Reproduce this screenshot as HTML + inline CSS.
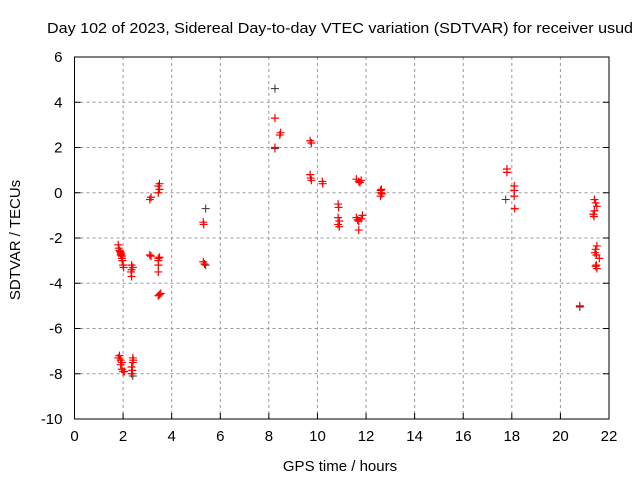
<!DOCTYPE html>
<html><head><meta charset="utf-8"><style>
body{margin:0;background:#fff;}
svg text{font-family:"Liberation Sans",sans-serif;font-size:15px;fill:#000;}
</style></head><body>
<svg id="chart" width="640" height="480"></svg>
<script>
const xTicks=[0,2,4,6,8,10,12,14,16,18,20,22];
const yTicks=[-10,-8,-6,-4,-2,0,2,4,6];
const redX=[1.8,1.82,1.85,1.88,1.9,1.92,1.95,1.97,2.0,2.02,1.95,1.9,2.35,2.35,2.33,2.35,2.4,3.1,3.15,3.1,3.15,3.45,3.45,3.45,3.45,3.5,3.45,3.5,3.45,3.5,3.45,3.55,1.8,1.85,1.9,1.95,1.9,2.0,1.95,2.05,2.35,2.4,2.38,2.35,2.42,2.4,5.3,5.32,5.3,5.35,8.25,8.45,8.48,8.25,9.7,9.75,9.7,9.72,9.75,10.2,10.22,10.85,10.87,10.85,10.9,10.85,10.9,11.6,11.7,11.75,11.8,11.6,11.65,11.7,11.8,11.85,11.7,12.6,12.62,12.6,12.65,12.63,17.8,17.8,18.1,18.1,18.1,18.12,20.8,21.4,21.45,21.5,21.4,21.35,21.38,21.5,21.45,21.42,21.48,21.45,21.5,21.48,21.6];
const redY=[-2.3,-2.45,-2.55,-2.6,-2.65,-2.7,-2.8,-3.0,-3.2,-3.3,-2.9,-2.75,-3.2,-3.4,-3.5,-3.7,-3.3,-0.3,-0.2,-2.75,-2.8,-2.9,-3.0,-3.2,-3.5,-2.85,0.0,0.15,0.3,-4.5,-4.55,-4.45,-7.3,-7.2,-7.4,-7.5,-7.6,-7.9,-7.8,-7.9,-7.7,-7.5,-7.85,-8.0,-7.4,-7.3,-1.3,-1.4,-3.05,-3.15,3.3,2.55,2.65,2.0,2.3,2.2,0.8,0.65,0.55,0.5,0.4,-0.5,-0.65,-1.1,-1.25,-1.4,-1.5,0.6,0.5,0.45,0.55,-1.1,-1.2,-1.25,-1.15,-1.0,-1.65,0.1,0.0,-0.15,-0.05,0.15,1.05,0.9,0.3,0.1,-0.15,-0.7,-5.0,-0.3,-0.45,-0.6,-0.8,-0.95,-1.05,-2.35,-2.5,-2.65,-2.75,-3.25,-3.35,-3.2,-2.9];
const blackX=[3.5,5.4,5.4,8.25,8.25,2.4,20.8,17.75];
const blackY=[0.4,-0.7,-3.2,4.6,1.95,-8.1,-5.05,-0.3];
const L=74.5,R=609,T=57,B=419;
const sx=v=>L+(v-0)/(22-0)*(R-L);
const sy=v=>B-(v+10)/16*(B-T);
const svg=document.getElementById('chart');
const NS='http://www.w3.org/2000/svg';
function mk(tag,attrs,parent){const e=document.createElementNS(NS,tag);for(const k in attrs)e.setAttribute(k,attrs[k]);(parent||svg).appendChild(e);return e;}
xTicks.forEach(t=>{
  const x=sx(t);
  if(t>0&&t<22){const g=mk('line',{x1:x,x2:x,y1:T,y2:B,stroke:'#999','stroke-dasharray':'3,3'});
  
  }
  const tk=mk('line',{x1:x,x2:x,y1:B,y2:B-6,stroke:'#000'});
  
  
  const tx=mk('text',{x:x,y:B+22,'text-anchor':'middle'});tx.textContent=t;
  
  
});
yTicks.forEach(t=>{
  const y=sy(t);
  if(t>-10&&t<6){const g=mk('line',{x1:L,x2:R,y1:y,y2:y,stroke:'#999','stroke-dasharray':'3,3'});
  
  }
  const tk=mk('line',{x1:L,x2:L+6,y1:y,y2:y,stroke:'#000'});
  
  
  const tk2=mk('line',{x1:R,x2:R-6,y1:y,y2:y,stroke:'#000'});
  
  
  const tx=mk('text',{x:L-12,y:y+5,'text-anchor':'end'});tx.textContent=t;
  
  
});
const fr=mk('rect',{x:L,y:T,width:R-L,height:B-T,fill:'none',stroke:'#000'});


function plus(x,y,c,w,name){
  const p=mk('path',{d:`M${x-4},${y}H${x+4}M${x},${y-4}V${y+4}`,stroke:c,'stroke-width':w,fill:'none'});
  
  
}
blackX.forEach((v,i)=>plus(sx(v),sy(blackY[i]),'#333',1,'black-point'));
redX.forEach((v,i)=>plus(sx(v),sy(redY[i]),'#f00',1.2,'red-point'));
const tt=mk('text',{x:47,y:33,textLength:586,lengthAdjust:'spacingAndGlyphs'});tt.textContent='Day 102 of 2023, Sidereal Day-to-day VTEC variation (SDTVAR) for receiver usud';


const xt=mk('text',{x:340,y:471,'text-anchor':'middle'});xt.textContent='GPS time / hours';


const yt=mk('text',{x:0,y:0,'text-anchor':'middle',transform:'translate(20,240) rotate(-90)'});yt.textContent='SDTVAR / TECUs';


</script>
</body></html>
